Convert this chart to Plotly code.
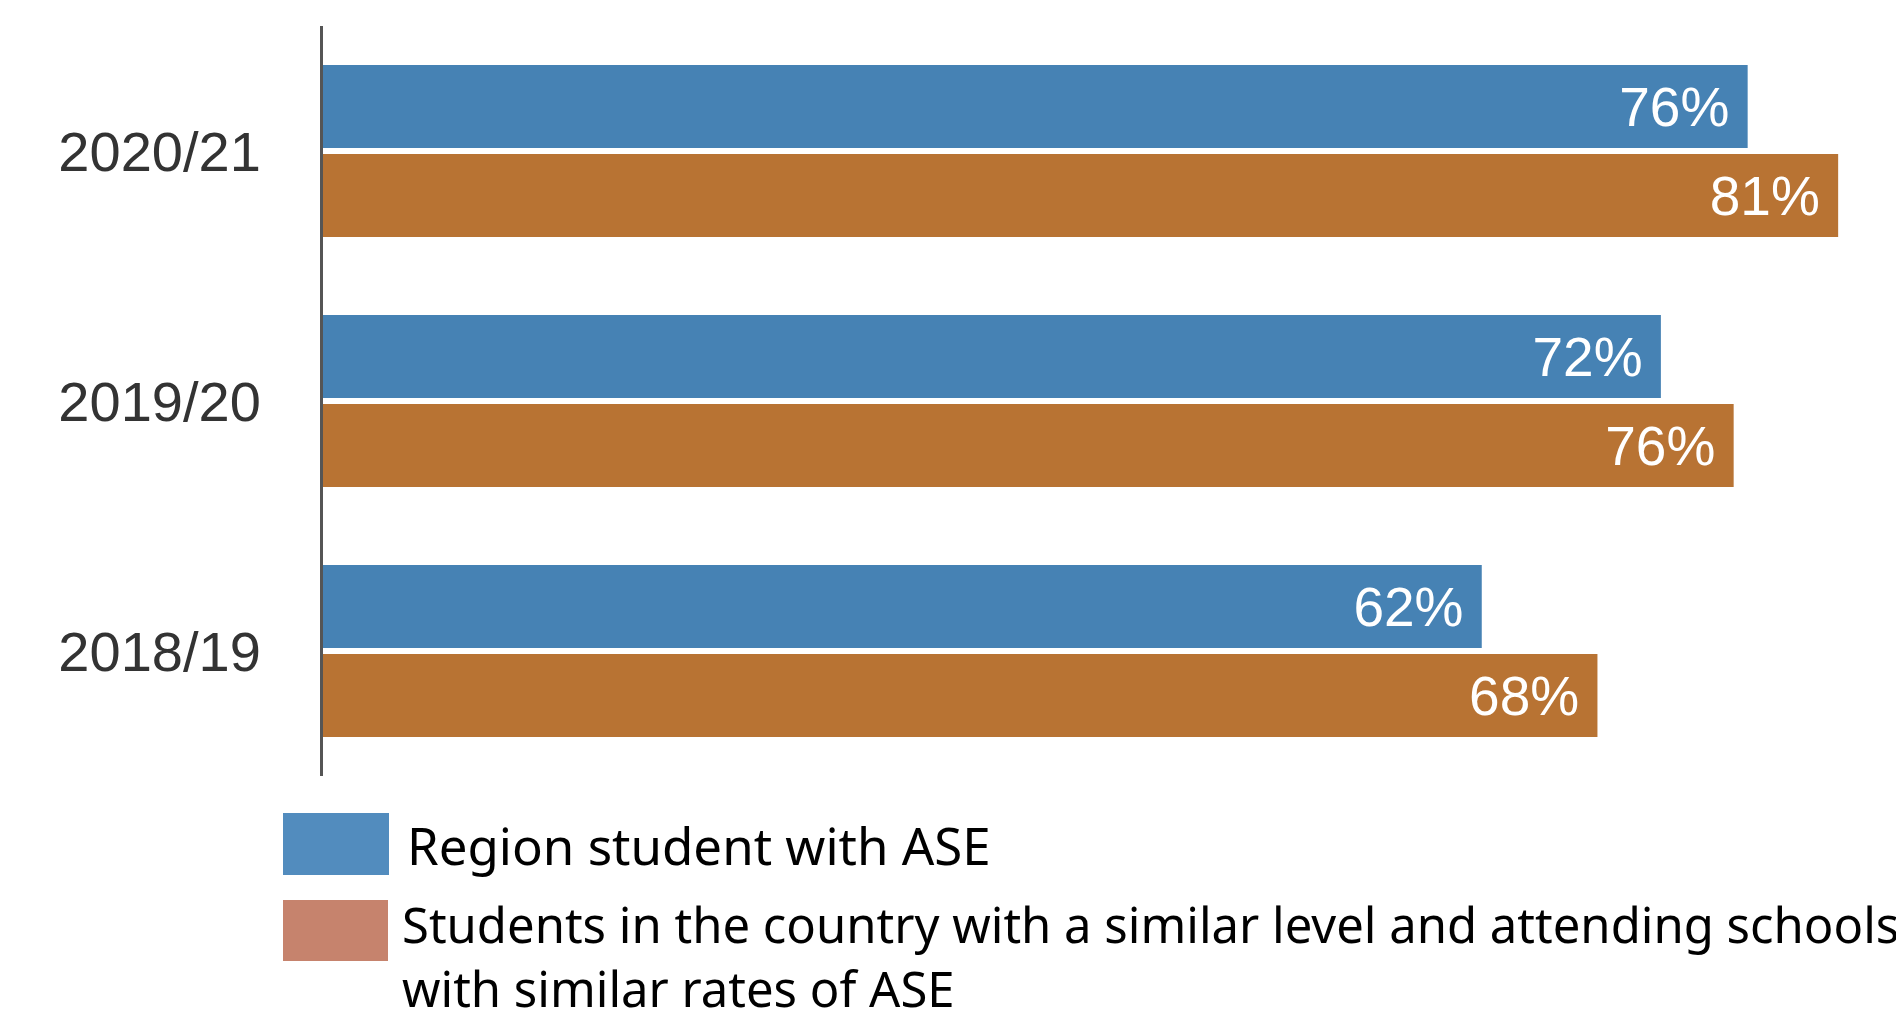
import plotly.graph_objects as go

categories = ["2020/21", "2019/20", "2018/19"]
region_values = [76.35, 71.7, 62.1]
country_values = [81.2, 75.6, 68.3]
region_name = "Region student with ASE"
country_name = "Students in the country with a similar level and attending schools<br>with similar rates of ASE"

BLUE = "#4682B4"
ORANGE = "#B87333"
BLUE_LEG = "#528CBE"
ORANGE_LEG = "#C6836D"


def labels(vals):
    return [f"{round(v)}%\u00a0" for v in vals]


fig = go.Figure()
fig.add_trace(go.Bar(
    y=categories, x=region_values, orientation="h", name=region_name,
    marker=dict(color=BLUE, line=dict(width=0)),
    text=labels(region_values), textposition="inside", insidetextanchor="end",
    textfont=dict(family="Liberation Sans", size=55, color="white"),
    showlegend=False,
))
fig.add_trace(go.Bar(
    y=categories, x=country_values, orientation="h", name=country_name,
    marker=dict(color=ORANGE, line=dict(width=0)),
    text=labels(country_values), textposition="inside", insidetextanchor="end",
    textfont=dict(family="Liberation Sans", size=55, color="white"),
    showlegend=False,
))

W, H = 1896, 1019
L, R, T, B = 323, 0, 26, 243
pw, ph = W - L - R, H - T - B


def px_x(p):
    return (p - L) / pw


def px_y(p):
    return (H - B - p) / ph


shapes = [
    dict(type="rect", xref="paper", yref="paper",
         x0=px_x(283), x1=px_x(389), y0=px_y(875), y1=px_y(813),
         fillcolor=BLUE_LEG, line=dict(width=0)),
    dict(type="rect", xref="paper", yref="paper",
         x0=px_x(283), x1=px_x(388), y0=px_y(961), y1=px_y(900),
         fillcolor=ORANGE_LEG, line=dict(width=0)),
]
annotations = [
    dict(text=region_name, xref="paper", yref="paper", x=px_x(405), y=px_y(845),
         xanchor="left", yanchor="middle", showarrow=False, align="left",
         font=dict(family="Noto Sans", size=51, color="black")),
    dict(text=country_name, xref="paper", yref="paper", x=px_x(400), y=px_y(889),
         xanchor="left", yanchor="top", showarrow=False, align="left",
         font=dict(family="Noto Sans", size=49, color="black")),
]

fig.update_layout(
    width=W, height=H,
    margin=dict(l=L, r=R, t=T, b=B, pad=0),
    paper_bgcolor="white", plot_bgcolor="white",
    barmode="group", bargap=0.288, bargroupgap=0.07,
    shapes=shapes, annotations=annotations,
    xaxis=dict(range=[0, 84.3], visible=False, showgrid=False, zeroline=False),
    yaxis=dict(autorange="reversed", showline=True, linecolor="#555555", linewidth=3,
               showgrid=False, zeroline=False, ticks="", ticklabelstandoff=48,
               tickfont=dict(family="Liberation Sans", size=56, color="#333333")),
)

fig.write_html("out.html", config={"displayModeBar": False},
               post_script="document.body.style.margin='0';document.body.style.overflow='hidden';")
